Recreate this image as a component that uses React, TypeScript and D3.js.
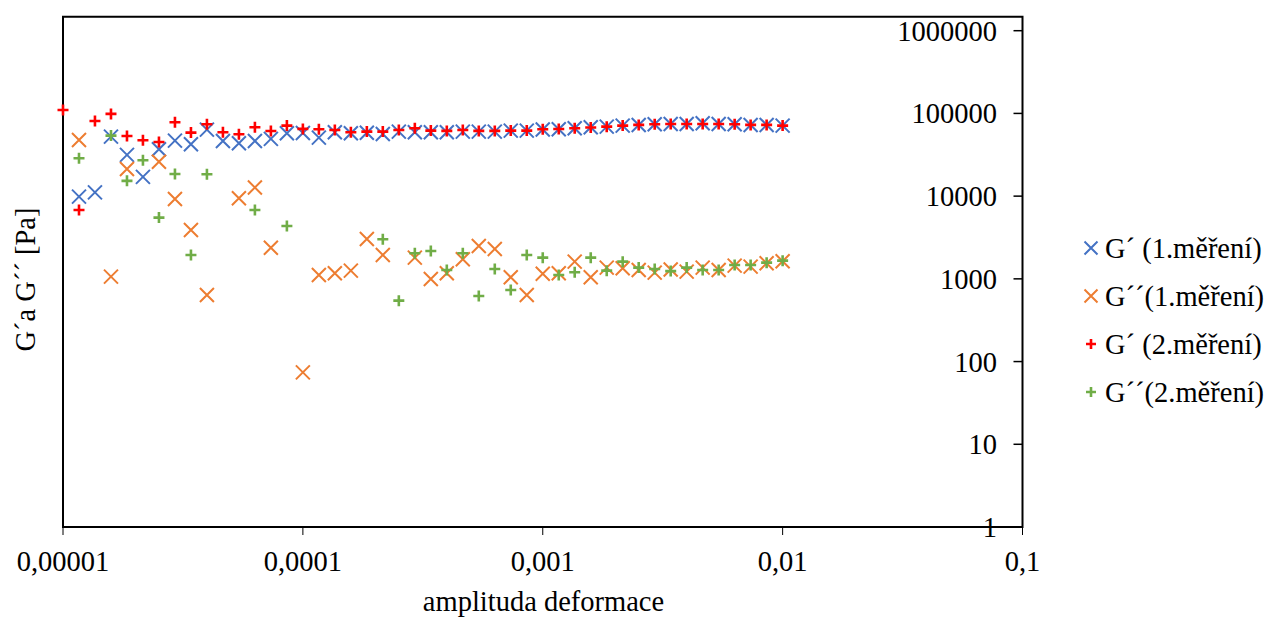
import React from "react";
import * as d3 from "d3";

const strain: number[] = [
  1.0e-5, 1.166e-5, 1.359e-5, 1.585e-5, 1.848e-5, 2.154e-5, 2.512e-5, 2.929e-5, 3.415e-5, 3.981e-5,
  4.642e-5, 5.412e-5, 6.31e-5, 7.356e-5, 8.577e-5,
  1.0e-4, 1.166e-4, 1.359e-4, 1.585e-4, 1.848e-4, 2.154e-4, 2.512e-4, 2.929e-4, 3.415e-4, 3.981e-4,
  4.642e-4, 5.412e-4, 6.31e-4, 7.356e-4, 8.577e-4,
  1.0e-3, 1.166e-3, 1.359e-3, 1.585e-3, 1.848e-3, 2.154e-3, 2.512e-3, 2.929e-3, 3.415e-3, 3.981e-3,
  4.642e-3, 5.412e-3, 6.31e-3, 7.356e-3, 8.577e-3,
  1.0e-2,
];

const gPrime1: (number | null)[] = [
  null, 9860, 11100, 52400, 31500, 17100, 36900, 46900, 42400, 63700,
  46500, 43600, 46500, 49200, 57600,
  58000, 51000, 59300, 57600, 58500, 56500, 60300, 59300, 59300, 59300,
  60300, 60300, 60300, 62000, 62000,
  64000, 64400, 66200, 68100, 69200, 71200, 72600, 74000, 74500, 74500,
  76100, 74500, 74000, 72600, 72600,
  71200,
];

const gDouble1: (number | null)[] = [
  null, 47800, null, 1064, 21300, null, 26100, 9250, 3900, 639,
  null, 9440, 12700, 2380, null,
  74, 1115, 1169, 1256, 3035, 1945, null, 1804, 997, 1169,
  1726, 2500, 2300, 1045, 639,
  1155, 1169, 1615, 1045, 1367, 1343, 1282, 1189, 1300, 1222,
  1367, 1282, 1445, 1405, 1544,
  1633,
];

const gPrime2: (number | null)[] = [
  110000, 6800, 81000, 98600, 53400, 47400, 45200, 78300, 58600, 74000,
  59200, 56000, 68100, 61400, 71200,
  65000, 64400, 63100, 59300, 60300, 60300, 63100, 66200, 62000, 61500,
  63100, 61500, 61500, 62000, 62000,
  64400, 64800, 66200, 67500, 69200, 71200, 72600, 74000, 74500, 74500,
  74500, 74500, 74000, 72600, 72600,
  71200,
];

const gDouble2: (number | null)[] = [
  null, 28700, null, 53900, 15300, 27200, 5500, 18550, 1945, 18400,
  null, null, 6810, null, 4360,
  null, null, null, null, null, 3010, 545, 2040, 2175, 1282,
  2040, 621, 1318, 734, 1945,
  1804, 1115, 1202, 1804, 1256, 1615, 1367, 1318, 1240, 1367,
  1282, 1282, 1473, 1473, 1570,
  1660,
];

const seriesNames = ["G\u00B4 (1.m\u011B\u0159en\u00ED)", "G\u00B4\u00B4(1.m\u011B\u0159en\u00ED)", "G\u00B4 (2.m\u011B\u0159en\u00ED)", "G\u00B4\u00B4(2.m\u011B\u0159en\u00ED)"];
const seriesColors = ["#4472C4", "#ED7D31", "#FF0000", "#70AD47"];
const seriesMarkers = ["x", "x", "+", "+"];
const seriesValues = [gPrime1, gDouble1, gPrime2, gDouble2];

const xTicks = [1e-5, 1e-4, 1e-3, 1e-2, 1e-1];
const xTickLabels = ["0,00001", "0,0001", "0,001", "0,01", "0,1"];
const yTicks = [1, 10, 100, 1000, 10000, 100000, 1000000];
const yTickLabels = ["1", "10", "100", "1000", "10000", "100000", "1000000"];

const FONT = "'Liberation Serif', 'Times New Roman', serif";
const FS = 28.5;

function Marker({ kind, x, y, color, s }: { kind: string; x: number; y: number; color: string; s: number }) {
  if (kind === "x") {
    const h = s;
    return (
      <path
        d={`M${x - h},${y - h}L${x + h},${y + h}M${x - h},${y + h}L${x + h},${y - h}`}
        stroke={color}
        strokeWidth={2}
        fill="none"
      />
    );
  }
  const h = s;
  return (
    <path
      d={`M${x - h},${y}L${x + h},${y}M${x},${y - h}L${x},${y + h}`}
      stroke={color}
      strokeWidth={2.6}
      fill="none"
    />
  );
}

export default function App() {
  const W = 1272;
  const H = 617;
  const left = 63;
  const right = 1022.5;
  const top = 16.7;
  const bottom = 527;

  const x = d3.scaleLog().domain([1e-5, 0.1]).range([left, right]);
  const y = d3.scaleLog().domain([1, 1e6]).range([bottom, 30.7]);

  const legendY = [248, 296, 344, 392];

  return (
    <svg
      width={W}
      height={H}
      style={{ position: "absolute", left: 0, top: 0, background: "#fff" }}
      fontFamily={FONT}
    >
      <rect x={0} y={0} width={W} height={H} fill="#fff" />
      {/* plot box */}
      <path
        d={`M${left},${bottom}L${left},${top}L${right},${top}L${right},${bottom}Z`}
        fill="none"
        stroke="#000"
        strokeWidth={2}
      />
      {/* x ticks */}
      {xTicks.map((t, i) => (
        <g key={"xt" + i}>
          <line x1={x(t)} x2={x(t)} y1={bottom} y2={bottom + 8} stroke="#000" strokeWidth={1} />
          <text x={x(t)} y={571} fontSize={FS} textAnchor="middle" fill="#000">
            {xTickLabels[i]}
          </text>
        </g>
      ))}
      {/* y ticks */}
      {yTicks.map((t, i) => (
        <g key={"yt" + i}>
          <line x1={right - 9} x2={right} y1={y(t)} y2={y(t)} stroke="#000" strokeWidth={1.5} />
          <text x={997} y={y(t) + 10} fontSize={FS} textAnchor="end" fill="#000">
            {yTickLabels[i]}
          </text>
        </g>
      ))}
      {/* series */}
      {seriesValues.map((vals, si) => (
        <g key={"s" + si}>
          {vals.map((v, i) =>
            v == null ? null : (
              <Marker
                key={i}
                kind={seriesMarkers[si]}
                x={x(strain[i])}
                y={y(v)}
                color={seriesColors[si]}
                s={seriesMarkers[si] === "x" ? 7 : 5.5}
              />
            )
          )}
        </g>
      ))}
      {/* axis titles */}
      <text x={543.5} y={611} fontSize={FS} textAnchor="middle" fill="#000">
        amplituda deformace
      </text>
      <text
        transform={`translate(35,279.5) rotate(-90)`}
        fontSize={FS}
        textAnchor="middle"
        fill="#000"
      >
        {"G\u00B4a G\u00B4\u00B4 [Pa]"}
      </text>
      {/* legend */}
      {seriesNames.map((n, i) => (
        <g key={"lg" + i}>
          <Marker kind={seriesMarkers[i]} x={1091} y={legendY[i]} color={seriesColors[i]} s={seriesMarkers[i] === "x" ? 6.5 : 5} />
          <text x={1105} y={legendY[i] + 10} fontSize={FS} fill="#000">
            {n}
          </text>
        </g>
      ))}
    </svg>
  );
}
